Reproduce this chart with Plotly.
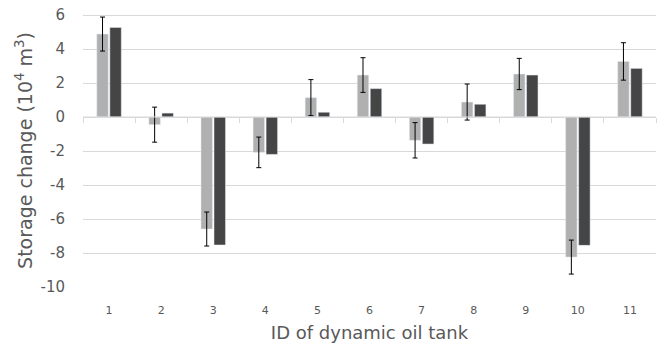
import plotly.graph_objects as go

tanks = ["1", "2", "3", "4", "5", "6", "7", "8", "9", "10", "11"]
series_a = [4.88, -0.45, -6.59, -2.08, 1.14, 2.47, -1.37, 0.88, 2.53, -8.24, 3.27]
series_a_err = [1.0, 1.03, 1.0, 0.9, 1.06, 1.02, 1.04, 1.06, 0.92, 1.0, 1.1]
series_b = [5.27, 0.23, -7.53, -2.2, 0.28, 1.67, -1.59, 0.75, 2.47, -7.55, 2.86]
y_ticks = [-10, -8, -6, -4, -2, 0, 2, 4, 6]
y_tick_labels = ["-10", "-8", "-6", "-4", "-2", "0", "2", "4", "6"]
x_boundaries = [i + 0.5 for i in range(0, 12)]

font_family = "DejaVu Sans, Verdana, sans-serif"
text_color = "#595959"
grid_color = "#d9d9d9"

fig = go.Figure()
fig.add_trace(go.Bar(
    x=list(range(1, 12)), y=series_a, marker_color="#b0b0b0",
    error_y=dict(type="data", array=series_a_err, color="black", thickness=1, width=2.5),
    showlegend=False,
))
fig.add_trace(go.Bar(
    x=list(range(1, 12)), y=series_b, marker_color="#454545", showlegend=False,
))
# zero line axis with category boundary ticks
fig.add_trace(go.Scatter(x=[0.5, 11.5], y=[0, 0], xaxis="x2", mode="lines",
                         line=dict(color=grid_color, width=1), showlegend=False,
                         hoverinfo="skip"))

y_min, y_max = -10, 6.06
fig.update_layout(
    width=661, height=343,
    margin=dict(l=83, r=5, t=14, b=56),
    paper_bgcolor="white", plot_bgcolor="white",
    barmode="group", bargap=0.5, bargroupgap=0.12,
    font=dict(family=font_family, color=text_color),
    xaxis=dict(
        range=[0.5, 11.5], tickvals=list(range(1, 12)), ticktext=tanks,
        showgrid=False, zeroline=False, showline=False, automargin=False,
        tickfont=dict(size=11, color=text_color),
        ticks="outside", ticklen=13, tickcolor="rgba(0,0,0,0)",
        title=dict(text="ID of dynamic oil tank", font=dict(size=18, color=text_color), standoff=10),
    ),
    xaxis2=dict(
        range=[0.5, 11.5], overlaying="x", anchor="free", automargin=False,
        position=(0 - y_min) / (y_max - y_min),
        tickvals=x_boundaries, ticks="outside", ticklen=5, tickcolor=grid_color,
        showticklabels=False, showgrid=False, zeroline=False, showline=False,
    ),
    yaxis=dict(
        range=[y_min, y_max], tickvals=y_ticks, ticktext=y_tick_labels,
        showgrid=True, gridcolor=grid_color, gridwidth=1,
        zeroline=False, showline=False, automargin=False,
        tickfont=dict(size=15, color=text_color),
        ticks="outside", ticklen=14, tickcolor="rgba(0,0,0,0)",
        title=dict(text="Storage change (10<sup>4</sup> m<sup>3</sup>)",
                   font=dict(size=19, color=text_color), standoff=2),
    ),
)

fig.write_html("out.html", config={"displayModeBar": False},
               post_script="document.body.style.margin='0';document.body.style.overflow='hidden';")
